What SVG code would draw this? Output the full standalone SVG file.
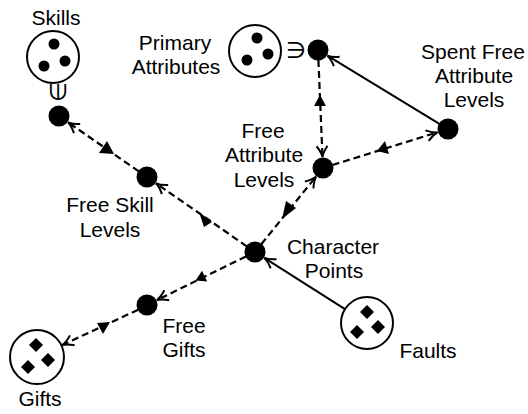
<svg xmlns="http://www.w3.org/2000/svg" width="528" height="414" viewBox="0 0 528 414">
<style>
.lbl{font-family:"Liberation Sans",Arial,sans-serif;font-size:21px;fill:#000;text-anchor:middle}
.sym{font-family:"DejaVu Sans",sans-serif;font-size:23px;fill:#000;text-anchor:middle}
.set{fill:#fff;stroke:#000;stroke-width:2}
.dot{fill:#000}
.d{stroke:#000;stroke-width:2.2;fill:none;stroke-dasharray:7 4}
.s{stroke:#000;stroke-width:2;fill:none}
.tri{fill:#000}
</style>
<defs>
<marker id="arr" markerUnits="userSpaceOnUse" viewBox="-14 -8 16 16" markerWidth="16" markerHeight="16" refX="0" refY="0" orient="auto">
<path d="M-11,-5.5 Q-5,-1 0,0 Q-5,1 -11,5.5" fill="none" stroke="#000" stroke-width="2"/>
</marker>
</defs>
<rect width="528" height="414" fill="#fff"/>
<g id="connectors">
<line class="d" x1="138.8" y1="171.3" x2="68" y2="122.3" marker-end="url(#arr)"/>
<line class="d" x1="246.8" y1="246.3" x2="156" y2="183.3" marker-end="url(#arr)"/>
<line class="d" x1="261.3" y1="244.2" x2="316.1" y2="176.5" marker-end="url(#arr)"/>
<line class="d" x1="318.4" y1="60" x2="322.5" y2="157" marker-end="url(#arr)"/>
<line class="d" x1="332.5" y1="165" x2="437.5" y2="132.3" marker-end="url(#arr)"/>
<line class="s" x1="439.4" y1="123.8" x2="327.4" y2="55.7" marker-end="url(#arr)"/>
<line class="s" x1="345" y1="309.1" x2="264.3" y2="257.9" marker-end="url(#arr)"/>
<line class="d" x1="246" y1="256.4" x2="156.9" y2="300.1" marker-end="url(#arr)"/>
<line class="d" x1="138.2" y1="309.7" x2="62.3" y2="345" marker-end="url(#arr)"/>
<polygon class="tri" points="107,141 99,153 114,154"/>
<polygon class="tri" points="199,212 204,227 212,222"/>
<polygon class="tri" points="282,219 286,201 296,208"/>
<polygon class="tri" points="320,95 314,106 326,106"/>
<polygon class="tri" points="385,141 377,151 389,154"/>
<polygon class="tri" points="195.6,280.6 207.2,281.6 202,270.8"/>
<polygon class="tri" points="97,323 110,322 103,334"/>
</g>
<g id="skills">
<circle class="set" cx="53" cy="57" r="26"/>
<circle class="dot" cx="54" cy="44" r="5.5"/>
<circle class="dot" cx="44" cy="66" r="5.5"/>
<circle class="dot" cx="65" cy="61" r="5.5"/>
<text class="lbl" x="56" y="25">Skills</text>
</g>
<g id="skills-member">
<text class="sym" transform="translate(58,92) rotate(90)" x="0" y="8">∋</text>
<circle class="dot" cx="59" cy="116" r="10.5"/>
</g>
<g id="primary-attributes">
<circle class="set" cx="255" cy="51" r="26"/>
<circle class="dot" cx="257" cy="38" r="5.5"/>
<circle class="dot" cx="247" cy="60" r="5.5"/>
<circle class="dot" cx="268" cy="54" r="5.5"/>
<text class="lbl" x="175" y="50">Primary</text>
<text class="lbl" x="176" y="74">Attributes</text>
</g>
<g id="primary-member">
<text class="sym" x="296" y="58">∋</text>
<circle class="dot" cx="318" cy="50" r="10.5"/>
</g>
<g id="spent-free-attribute-levels">
<circle class="dot" cx="448" cy="129" r="10.5"/>
<text class="lbl" x="473" y="59">Spent Free</text>
<text class="lbl" x="474" y="83">Attribute</text>
<text class="lbl" x="474" y="107">Levels</text>
</g>
<g id="free-attribute-levels">
<circle class="dot" cx="323" cy="168" r="10.5"/>
<text class="lbl" x="263" y="138">Free</text>
<text class="lbl" x="264" y="162">Attribute</text>
<text class="lbl" x="264" y="187">Levels</text>
</g>
<g id="free-skill-levels">
<circle class="dot" cx="147" cy="177" r="10.5"/>
<text class="lbl" x="110" y="212">Free Skill</text>
<text class="lbl" x="110" y="237">Levels</text>
</g>
<g id="character-points">
<circle class="dot" cx="255" cy="252" r="10.5"/>
<text class="lbl" x="333" y="254">Character</text>
<text class="lbl" x="334" y="278">Points</text>
</g>
<g id="faults">
<circle class="set" cx="367" cy="323" r="26"/>
<polygon class="dot" points="367,305 374,312 367,319 360,312"/>
<polygon class="dot" points="357,325 364,332 357,339 350,332"/>
<polygon class="dot" points="378,320 385,327 378,334 371,327"/>
<text class="lbl" x="428" y="358">Faults</text>
</g>
<g id="free-gifts">
<circle class="dot" cx="147" cy="305" r="10.5"/>
<text class="lbl" x="184" y="333">Free</text>
<text class="lbl" x="184" y="357">Gifts</text>
</g>
<g id="gifts">
<circle class="set" cx="37" cy="357" r="27"/>
<polygon class="dot" points="36,338 43,345 36,352 29,345"/>
<polygon class="dot" points="28,360 35,367 28,374 21,367"/>
<polygon class="dot" points="48,353 55,360 48,367 41,360"/>
<text class="lbl" x="40" y="406">Gifts</text>
</g>
</svg>
